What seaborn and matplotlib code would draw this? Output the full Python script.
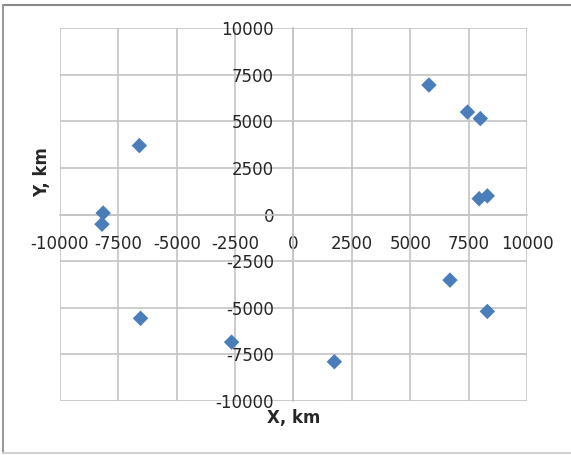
import matplotlib
matplotlib.use('Agg')
import matplotlib.pyplot as plt
import seaborn as sns
import pandas as pd
from matplotlib.lines import Line2D

# Positions (km)
x_km = [5800, 7450, 8000, 7950, 8300, -6600, -8150, -8200, 6700, 8300, -6550, -2650, 1750]
y_km = [6950, 5500, 5150, 850, 1000, 3700, 80, -520, -3520, -5200, -5570, -6850, -7900]
tick_vals = [-10000, -7500, -5000, -2500, 0, 2500, 5000, 7500, 10000]

df = pd.DataFrame({'X': x_km, 'Y': y_km})

sns.set_style('white')
plt.rcParams['font.family'] = ['DejaVu Sans']

fig = plt.figure(figsize=(5.71, 4.55), dpi=100)
ax = fig.add_axes([0.105, 0.119, 0.818, 0.819])

sns.scatterplot(data=df, x='X', y='Y', marker='D', s=62, color='#4a7ebb',
                edgecolor='none', linewidth=0, ax=ax, zorder=3, clip_on=False)

ax.set_xlim(-10000, 10000)
ax.set_ylim(-10000, 10000)
ax.set_xticks(tick_vals)
ax.set_yticks(tick_vals)
ax.set_xticklabels([str(v) for v in tick_vals])
ax.set_yticklabels([str(v) for v in tick_vals])

grid_col = '#c4c4c4'
ax.grid(True, color=grid_col, linewidth=1.2)
for gl in ax.get_xgridlines() + ax.get_ygridlines():
    gl.set_clip_on(False)

# Excel style axes crossing in the middle
for side in ['top', 'right']:
    ax.spines[side].set_visible(False)
ax.spines['left'].set_position('zero')
ax.spines['bottom'].set_position('zero')
for side in ['left', 'bottom']:
    ax.spines[side].set_color(grid_col)
    ax.spines[side].set_linewidth(1.2)

ax.tick_params(axis='both', length=0, labelsize=12, colors='#262626')
ax.tick_params(axis='y', pad=14)
ax.tick_params(axis='x', pad=15)

ax.set_xlabel('X, km', fontsize=12, fontweight='bold', color='#262626')
ax.set_ylabel('Y, km', fontsize=12, fontweight='bold', color='#262626')
ax.xaxis.set_label_coords(0.5, -0.022)
ax.yaxis.set_label_coords(-0.018, 0.614)

# chart area border
bc = '#9a9a9a'
fig.add_artist(Line2D([0.006, 1.0], [0.989, 0.989], color='#8a8a8a', lw=1.5, transform=fig.transFigure))
fig.add_artist(Line2D([0.006, 0.006], [0.005, 0.989], color=bc, lw=1.5, transform=fig.transFigure))
fig.add_artist(Line2D([0.006, 1.0], [0.005, 0.005], color='#d0d0d0', lw=1.5, transform=fig.transFigure))

plt.savefig('out.png', dpi=100)
